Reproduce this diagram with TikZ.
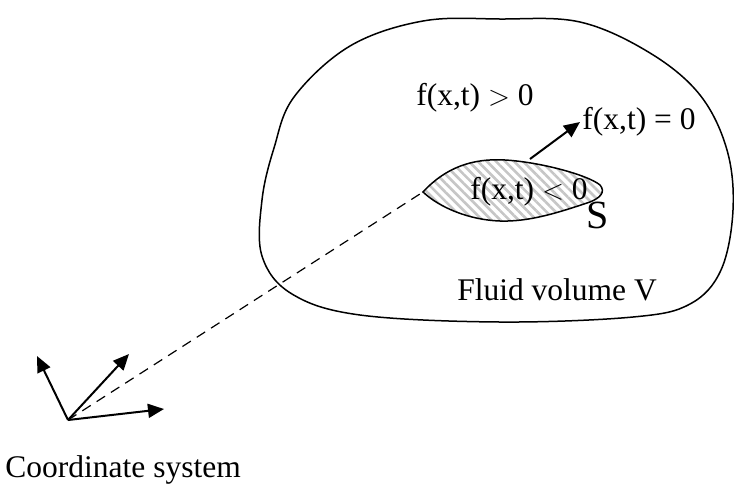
\documentclass[tikz,border=0pt]{standalone}
\usepackage{fontspec}
\setmainfont{Liberation Serif}
\usetikzlibrary{arrows.meta,patterns.meta}

\tikzset{
  lbl/.style={font=\fontsize{15.75}{18}\selectfont, inner sep=1pt},
  vec/.style={line width=1pt, -{Triangle[length=8pt,width=7pt]}}
}

\begin{document}
\begin{tikzpicture}[x=0.5pt,y=-0.5pt]
  \useasboundingbox (0,0) rectangle (734,489);

  % fluid volume
  \draw[line width=0.75pt] plot[smooth cycle, tension=0.6] coordinates {
    (500,19) (580,22) (650,53) (700,95) (727,150) (733,210) (721,270)
    (690,304) (633,317) (500,322) (360,315) (292,294) (262,256)
    (262,200) (274,148) (294,97) (350,46) (423,21)};

  % surface S
  \draw[line width=0.75pt, fill=white,
        pattern={Lines[angle=-45,distance=3.2pt,line width=1.3pt]}, pattern color=gray!45]
    (423,192) .. controls (445,168) and (472,158) .. (505,160)
    .. controls (540,162) and (588,175) .. (600,185)
    .. controls (606,192) and (600,198) .. (590,202)
    .. controls (560,212) and (530,222) .. (500,221)
    .. controls (470,220) and (440,208) .. (423,192) -- cycle;

  \coordinate (tip) at (423,192);
  \coordinate (top) at (530,159);
  \coordinate (o) at (68,420);
  \coordinate (e1) at (37,356);
  \coordinate (e2) at (129,354);
  \coordinate (e3) at (164,409);

  \node[lbl] (pos) at (475,98) {f(x,t) $>$ 0};
  \node[lbl, anchor=west] (zero) at (580,122) {f(x,t) = 0};
  \node[lbl] (neg) at (529,192) {f(x,t) $<$ 0};
  \node[font=\fontsize{20}{22}\selectfont, inner sep=0pt] (s) at (598,215) {S};
  \node[lbl] (vol) at (557,290) {Fluid volume V};
  \node[lbl, anchor=west] (cs) at (3,470) {Coordinate system};

  \draw[vec] (top) -- (zero.west);

  \draw[dashed, line width=0.6pt, dash pattern=on 5pt off 3.5pt] (o) -- (tip);
  \draw[vec] (o) -- (e1);
  \draw[vec] (o) -- (e2);
  \draw[vec] (o) -- (e3);
\end{tikzpicture}
\end{document}
